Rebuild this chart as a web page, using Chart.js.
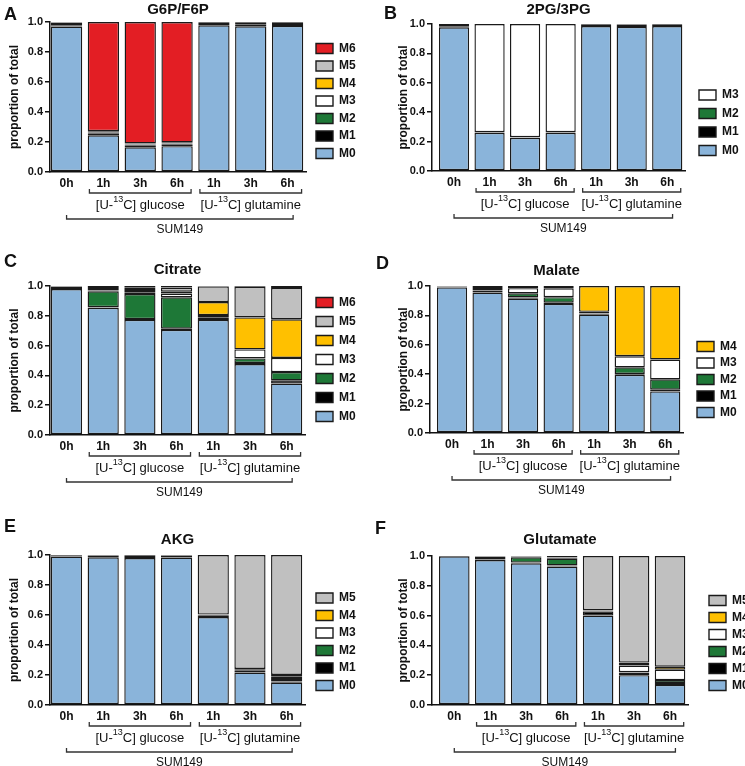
<!DOCTYPE html>
<html>
<head>
<meta charset="utf-8">
<script src="https://cdn.jsdelivr.net/npm/chart.js@4.4.1/dist/chart.umd.min.js"></script>
<style>
  body { margin: 0; background: #fff; }
  #fig { position: relative; width: 745px; height: 766px; overflow: hidden; background: #fff; }
  #fig canvas { position: absolute; }
</style>
</head>
<body>
<div id="fig"></div>
<script>
const FONT = "'Liberation Sans', Arial, sans-serif";

const timepoints = ["0h", "1h", "3h", "6h", "1h", "3h", "6h"];
const isotopologues = ["M0", "M1", "M2", "M3", "M4", "M5", "M6"];
const massColors = ["#8ab4da", "#000000", "#1e7837", "#ffffff", "#ffc000", "#c0c0c0", "#e31e24"];
// tracer groups: first/last index into timepoints
const tracers = [
  { name: "glucose", first: 1, last: 3 },
  { name: "glutamine", first: 4, last: 6 },
];
const cellLine = "SUM149";

// rows = M0, M1, M2 ... (bottom to top of each bar)
// cols = 0h, glucose 1h/3h/6h, glutamine 1h/3h/6h
const g6pF6p = [
  [0.970, 0.245, 0.165, 0.172, 0.978, 0.971, 0.974],
  [0.009, 0.010, 0.010, 0.010, 0.009, 0.011, 0.012],
  [0.018, 0.008, 0.006, 0.007, 0.011, 0.016, 0.012],
  [0.002, 0.004, 0.003, 0.003, 0.001, 0.001, 0.001],
  [0.001, 0.002, 0.002, 0.002, 0.001, 0.001, 0.001],
  [0.000, 0.004, 0.004, 0.004, 0.000, 0.000, 0.000],
  [0.000, 0.727, 0.810, 0.802, 0.000, 0.000, 0.000],
];
const pg2pg3 = [
  [0.978, 0.260, 0.226, 0.260, 0.986, 0.980, 0.986],
  [0.004, 0.003, 0.002, 0.003, 0.012, 0.017, 0.012],
  [0.004, 0.002, 0.002, 0.002, 0.002, 0.003, 0.002],
  [0.014, 0.735, 0.770, 0.735, 0.000, 0.000, 0.000],
];
const citrate = [
  [0.980, 0.854, 0.772, 0.705, 0.772, 0.476, 0.345],
  [0.013, 0.004, 0.006, 0.008, 0.013, 0.008, 0.022],
  [0.004, 0.106, 0.168, 0.211, 0.005, 0.030, 0.055],
  [0.001, 0.006, 0.012, 0.025, 0.015, 0.060, 0.095],
  [0.001, 0.010, 0.015, 0.013, 0.087, 0.215, 0.260],
  [0.001, 0.014, 0.019, 0.028, 0.105, 0.206, 0.210],
  [0.000, 0.006, 0.008, 0.010, 0.003, 0.005, 0.013],
];
const malate = [
  [0.990, 0.955, 0.914, 0.878, 0.805, 0.396, 0.283],
  [0.005, 0.015, 0.008, 0.008, 0.006, 0.006, 0.012],
  [0.002, 0.003, 0.028, 0.038, 0.003, 0.045, 0.070],
  [0.003, 0.020, 0.035, 0.060, 0.010, 0.075, 0.135],
  [0.000, 0.007, 0.015, 0.016, 0.176, 0.478, 0.500],
];
const akg = [
  [0.990, 0.985, 0.980, 0.983, 0.586, 0.216, 0.149],
  [0.008, 0.012, 0.015, 0.013, 0.012, 0.012, 0.008],
  [0.002, 0.003, 0.005, 0.004, 0.002, 0.006, 0.016],
  [0.000, 0.000, 0.000, 0.000, 0.002, 0.004, 0.018],
  [0.000, 0.000, 0.000, 0.000, 0.001, 0.002, 0.009],
  [0.000, 0.000, 0.000, 0.000, 0.397, 0.760, 0.800],
];
const glutamate = [
  [0.998, 0.973, 0.951, 0.929, 0.600, 0.200, 0.135],
  [0.001, 0.004, 0.005, 0.008, 0.028, 0.016, 0.012],
  [0.001, 0.018, 0.035, 0.045, 0.004, 0.004, 0.020],
  [0.000, 0.003, 0.004, 0.006, 0.003, 0.045, 0.070],
  [0.000, 0.001, 0.002, 0.004, 0.002, 0.020, 0.020],
  [0.000, 0.001, 0.003, 0.008, 0.363, 0.715, 0.743],
];

// page layout (absolute px): box = canvas rect, plot = [left, right, top, bottom]
// legend = [swatch x, M0 centre y, gap between rows]
const panels = [
  { letter: "A", title: "G6P/F6P",   rows: g6pF6p,    box: [0, 0, 372, 250],     plot: [50, 306, 22, 172],   titleY: 10,  letterXY: [4, 15],    legend: [316, 153, 5.5], yTitleX: 15,  gap: -0.05 },
  { letter: "B", title: "2PG/3PG",   rows: pg2pg3,    box: [372, 0, 373, 250],   plot: [432, 685, 24, 171],  titleY: 10,  letterXY: [384, 14],  legend: [699, 150, 6.5], yTitleX: 404, gap: 0.12 },
  { letter: "C", title: "Citrate",   rows: citrate,   box: [0, 250, 372, 260],   plot: [50, 305, 286, 435],  titleY: 270, letterXY: [4, 262],   legend: [316, 416, 7],   yTitleX: 15,  gap: -0.05 },
  { letter: "D", title: "Malate",    rows: malate,    box: [372, 250, 373, 260], plot: [430, 683, 286, 433], titleY: 271, letterXY: [376, 264], legend: [697, 412, 4.5], yTitleX: 404, gap: 0.12 },
  { letter: "E", title: "AKG",       rows: akg,       box: [0, 510, 372, 256],   plot: [50, 305, 555, 705],  titleY: 540, letterXY: [4, 527],   legend: [316, 685, 5.5], yTitleX: 15,  gap: -0.05 },
  { letter: "F", title: "Glutamate", rows: glutamate, box: [372, 510, 373, 256], plot: [432, 688, 556, 705], titleY: 540, letterXY: [375, 529], legend: [709, 685, 5],   yTitleX: 404, gap: 0.12 },
];

Chart.defaults.font.family = FONT;
Chart.defaults.color = "#111";

function bracket(ctx, x1, x2, y) {
  ctx.beginPath();
  ctx.moveTo(x1, y - 4);
  ctx.lineTo(x1, y);
  ctx.lineTo(x2, y);
  ctx.lineTo(x2, y - 4);
  ctx.stroke();
}

function tracerLabel(ctx, name, cx, cy) {
  const big = "13px " + FONT, small = "9px " + FONT;
  const parts = [["[U-", big, 0], ["13", small, -5], ["C] " + name, big, 0]];
  let w = 0;
  parts.forEach((p) => { ctx.font = p[1]; w += ctx.measureText(p[0]).width; });
  let x = cx - w / 2;
  ctx.textAlign = "left";
  parts.forEach((p) => {
    ctx.font = p[1];
    ctx.fillText(p[0], x, cy + p[2]);
    x += ctx.measureText(p[0]).width;
  });
}

const decor = {
  id: "decor",
  afterLayout(chart, args, o) {
    // legend sits right of the plot, bottom aligned like the original
    const lg = chart.legend;
    const pad = lg.options.labels.padding;
    const step = 12 + pad;
    lg.left = o.legendX - pad;
    lg.right = lg.left + 60;
    lg.bottom = o.legendY - 6 + step + 0.5;
    lg.top = lg.bottom - 150;
  },
  afterDraw(chart, args, o) {
    const ctx = chart.ctx;
    const ca = chart.chartArea;
    const x = chart.scales.x;
    const slot = x.getPixelForValue(1) - x.getPixelForValue(0);
    const b = ca.bottom;
    ctx.save();
    ctx.fillStyle = "#111";
    ctx.textBaseline = "middle";

    ctx.font = "bold 18px " + FONT;
    ctx.textAlign = "left";
    ctx.fillText(o.letter, o.letterXY[0], o.letterXY[1]);

    ctx.font = "bold 15px " + FONT;
    ctx.textAlign = "center";
    ctx.fillText(o.title, (ca.left + ca.right) / 2, o.titleY);

    ctx.strokeStyle = "#333";
    ctx.lineWidth = 1.3;
    tracers.forEach((t) => {
      const x1 = x.getPixelForValue(t.first) - 0.38 * slot;
      const x2 = x.getPixelForValue(t.last) + 0.38 * slot;
      bracket(ctx, x1, x2, b + 21);
      tracerLabel(ctx, t.name, (x1 + x2) / 2, b + 33);
    });
    const s1 = x.getPixelForValue(0);
    const s2 = x.getPixelForValue(timepoints.length - 1) + 0.15 * slot;
    bracket(ctx, s1, s2, b + 47);
    ctx.font = "12px " + FONT;
    ctx.textAlign = "center";
    ctx.fillText(cellLine, (s1 + s2) / 2, b + 58);
    ctx.restore();
  },
};

const fig = document.getElementById("fig");

panels.forEach((p) => {
  const [cx, cy, cw, ch] = p.box;
  const [L, R, T, B] = p.plot;
  const cv = document.createElement("canvas");
  cv.width = cw;
  cv.height = ch;
  cv.style.left = cx + "px";
  cv.style.top = cy + "px";
  cv.style.width = cw + "px";
  cv.style.height = ch + "px";
  fig.appendChild(cv);

  const datasets = p.rows.map((vals, i) => ({
    label: isotopologues[i],
    data: vals,
    backgroundColor: massColors[i],
    borderColor: "#1a1a1a",
    borderWidth: 1.4,
    borderSkipped: false,
    barPercentage: 0.85,
    categoryPercentage: 1,
    clip: false,
  }));

  new Chart(cv, {
    type: "bar",
    data: { labels: timepoints, datasets },
    options: {
      responsive: false,
      animation: false,
      devicePixelRatio: 1,
      layout: { padding: { left: 0, top: T - cy, right: cx + cw - R, bottom: cy + ch - B - 20 } },
      scales: {
        x: {
          stacked: true,
          offset: true,
          grid: { display: false, drawTicks: false },
          border: { color: "#111", width: 1.5 },
          ticks: { color: "#111", padding: 4, maxRotation: 0, autoSkip: false, font: { size: 12, weight: "bold" } },
          afterFit: (s) => { s.height = 20; },
          afterBuildTicks: (s) => { s._startValue -= p.gap; s._valueRange += p.gap; },
        },
        y: {
          stacked: true,
          min: 0,
          max: 1,
          ticks: { stepSize: 0.2, padding: 2, color: "#111", font: { size: 11, weight: "bold" }, callback: (v) => v.toFixed(1) },
          grid: { drawOnChartArea: false, tickLength: 5, color: "#111", lineWidth: 1.5 },
          border: { color: "#111", width: 1.5 },
          title: {
            display: true,
            text: "proportion of total",
            color: "#111",
            font: { size: 12, weight: "bold" },
            padding: { top: p.yTitleX - cx - 7.2, bottom: 0 },
          },
          afterFit: (s) => { s.width = L - cx; },
        },
      },
      plugins: {
        tooltip: { enabled: false },
        legend: {
          position: "chartArea",
          align: "end",
          reverse: true,
          labels: { boxWidth: 17, boxHeight: 10, padding: p.legend[2], color: "#111", font: { size: 12, weight: "bold" } },
        },
        decor: {
          letter: p.letter,
          title: p.title,
          titleY: p.titleY - cy,
          letterXY: [p.letterXY[0] - cx, p.letterXY[1] - cy],
          legendX: p.legend[0] - cx,
          legendY: p.legend[1] - cy,
        },
      },
    },
    plugins: [decor],
  });
});
</script>
</body>
</html>
